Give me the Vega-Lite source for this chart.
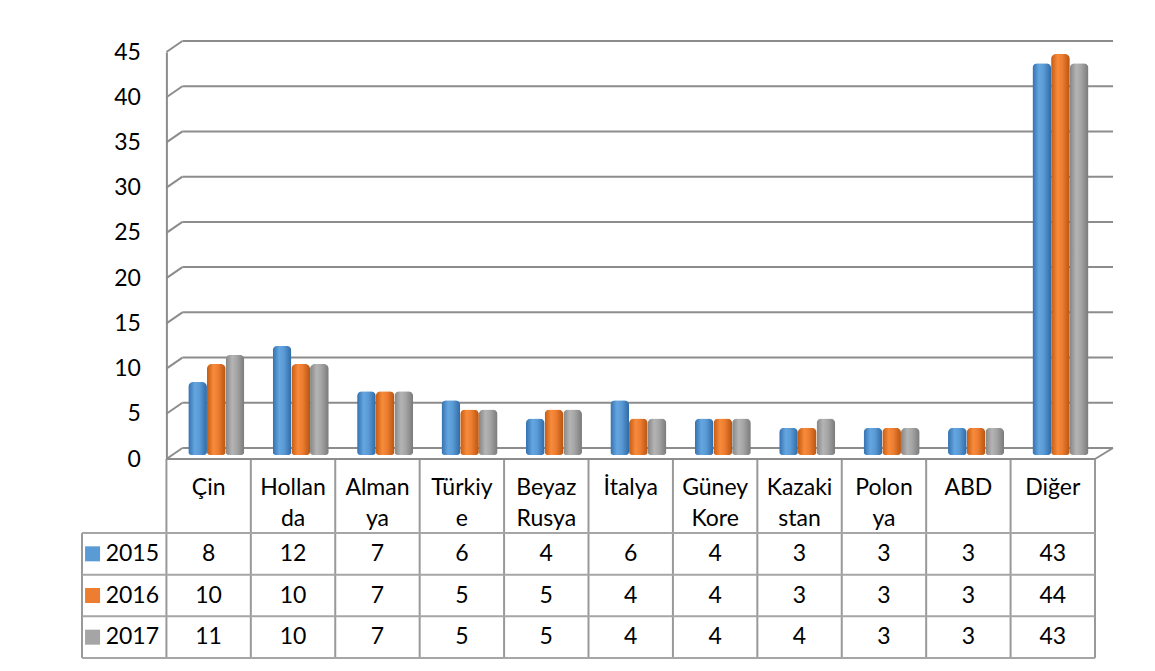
{
  "$schema": "https://vega.github.io/schema/vega-lite/v6.json",
  "padding": {"left": 81, "top": 40, "right": 5, "bottom": 5},
  "background": "white",
  "bounds": "flush",
  "spacing": 0,
  "config": {"view": {"stroke": null}, "font": "Lato", "text": {"font": "Lato"}},
  "datasets": {
    "d": [
      {"cat": "Çin", "year": "2015", "value": 8}, {"cat": "Çin", "year": "2016", "value": 10}, {"cat": "Çin", "year": "2017", "value": 11},
      {"cat": "Hollan\nda", "year": "2015", "value": 12}, {"cat": "Hollan\nda", "year": "2016", "value": 10}, {"cat": "Hollan\nda", "year": "2017", "value": 10},
      {"cat": "Alman\nya", "year": "2015", "value": 7}, {"cat": "Alman\nya", "year": "2016", "value": 7}, {"cat": "Alman\nya", "year": "2017", "value": 7},
      {"cat": "Türkiy\ne", "year": "2015", "value": 6}, {"cat": "Türkiy\ne", "year": "2016", "value": 5}, {"cat": "Türkiy\ne", "year": "2017", "value": 5},
      {"cat": "Beyaz\nRusya", "year": "2015", "value": 4}, {"cat": "Beyaz\nRusya", "year": "2016", "value": 5}, {"cat": "Beyaz\nRusya", "year": "2017", "value": 5},
      {"cat": "İtalya", "year": "2015", "value": 6}, {"cat": "İtalya", "year": "2016", "value": 4}, {"cat": "İtalya", "year": "2017", "value": 4},
      {"cat": "Güney\nKore", "year": "2015", "value": 4}, {"cat": "Güney\nKore", "year": "2016", "value": 4}, {"cat": "Güney\nKore", "year": "2017", "value": 4},
      {"cat": "Kazaki\nstan", "year": "2015", "value": 3}, {"cat": "Kazaki\nstan", "year": "2016", "value": 3}, {"cat": "Kazaki\nstan", "year": "2017", "value": 4},
      {"cat": "Polon\nya", "year": "2015", "value": 3}, {"cat": "Polon\nya", "year": "2016", "value": 3}, {"cat": "Polon\nya", "year": "2017", "value": 3},
      {"cat": "ABD", "year": "2015", "value": 3}, {"cat": "ABD", "year": "2016", "value": 3}, {"cat": "ABD", "year": "2017", "value": 3},
      {"cat": "Diğer", "year": "2015", "value": 43}, {"cat": "Diğer", "year": "2016", "value": 44}, {"cat": "Diğer", "year": "2017", "value": 43}
    ],
    "grid": [{"v": 0}, {"v": 5}, {"v": 10}, {"v": 15}, {"v": 20}, {"v": 25}, {"v": 30}, {"v": 35}, {"v": 40}, {"v": 45}],
    "cols": [{"cat": "legend"}, {"cat": "Çin"}, {"cat": "Hollan\nda"}, {"cat": "Alman\nya"}, {"cat": "Türkiy\ne"}, {"cat": "Beyaz\nRusya"}, {"cat": "İtalya"}, {"cat": "Güney\nKore"}, {"cat": "Kazaki\nstan"}, {"cat": "Polon\nya"}, {"cat": "ABD"}, {"cat": "Diğer"}]
  },
  "vconcat": [
    {
      "width": 1013,
      "height": 407,
      "resolve": {"scale": {"y": "independent"}, "axis": {"y": "independent"}},
      "layer": [
        {
          "layer": [
            {
              "data": {"name": "grid"},
              "mark": {"type": "rule", "color": "#8c8c8c", "strokeWidth": 2, "xOffset": 16, "x2Offset": 18, "yOffset": -11},
              "encoding": {
                "x": {"datum": "Çin", "type": "nominal", "bandPosition": 0, "axis": null,
                      "scale": {"domain": ["legend", "Çin", "Hollan\nda", "Alman\nya", "Türkiy\ne", "Beyaz\nRusya", "İtalya", "Güney\nKore", "Kazaki\nstan", "Polon\nya", "ABD", "Diğer"], "paddingInner": 0, "paddingOuter": 0}},
                "x2": {"datum": "Diğer", "bandPosition": 1},
                "y": {"field": "v", "type": "quantitative",
                      "scale": {"domain": [0, 45], "nice": false, "zero": true},
                      "axis": {"title": null, "offset": -84.4, "values": [0, 5, 10, 15, 20, 25, 30, 35, 40, 45], "tickSize": 0, "labelPadding": 26, "grid": false,
                               "domainColor": "#8c8c8c", "domainWidth": 2, "labelFont": "Lato", "labelFontSize": 23, "labelColor": "#000000"}}
              }
            },
            {
              "data": {"name": "grid"},
              "mark": {"type": "rule", "color": "#8c8c8c", "strokeWidth": 2, "x2Offset": 16, "y2Offset": -11},
              "encoding": {
                "x": {"datum": "Çin", "type": "nominal", "bandPosition": 0},
                "x2": {"datum": "Çin", "bandPosition": 0},
                "y": {"field": "v", "type": "quantitative",
                      "axis": {"title": null, "offset": -84.4, "values": [0, 5, 10, 15, 20, 25, 30, 35, 40, 45], "tickSize": 0, "labelPadding": 26, "grid": false,
                               "domainColor": "#8c8c8c", "domainWidth": 2, "labelFont": "Lato", "labelFontSize": 23, "labelColor": "#000000"}},
                "y2": {"field": "v"}
              }
            },
            {
              "data": {"values": [{"v": 0}]},
              "mark": {"type": "rule", "color": "#8c8c8c", "strokeWidth": 2, "x2Offset": 18, "y2Offset": -11},
              "encoding": {
                "x": {"datum": "Diğer", "type": "nominal", "bandPosition": 1},
                "x2": {"datum": "Diğer", "bandPosition": 1},
                "y": {"field": "v", "type": "quantitative",
                      "axis": {"title": null, "offset": -84.4, "values": [0, 5, 10, 15, 20, 25, 30, 35, 40, 45], "tickSize": 0, "labelPadding": 26, "grid": false,
                               "domainColor": "#8c8c8c", "domainWidth": 2, "labelFont": "Lato", "labelFontSize": 23, "labelColor": "#000000"}},
                "y2": {"field": "v"}
              }
            }
          ]
        },
        {
          "layer": [
            {
              "data": {"name": "d"},
              "transform": [{"filter": "datum.year == '2015'"}],
              "mark": {"type": "bar", "cornerRadiusTopLeft": 5, "cornerRadiusTopRight": 5, "cornerRadiusBottomLeft": 3, "cornerRadiusBottomRight": 3,
                       "fill": {"gradient": "linear", "x1": 0, "y1": 0, "x2": 1, "y2": 0, "stops": [{"offset": 0, "color": "#336fae"}, {"offset": 0.35, "color": "#64a6e0"}, {"offset": 0.6, "color": "#5b9bd5"}, {"offset": 1, "color": "#2e6aa6"}]}},
              "encoding": {
                "x": {"field": "cat", "type": "nominal"},
                "xOffset": {"field": "year", "type": "nominal", "scale": {"domain": ["2015", "2016", "2017"], "paddingInner": 0, "paddingOuter": 0.76, "align": 0.77}},
                "y": {"field": "value", "type": "quantitative", "axis": null, "scale": {"domain": [0, 45], "range": [403, -7], "nice": false}}
              }
            },
            {
              "data": {"name": "d"},
              "transform": [{"filter": "datum.year == '2016'"}],
              "mark": {"type": "bar", "cornerRadiusTopLeft": 5, "cornerRadiusTopRight": 5, "cornerRadiusBottomLeft": 3, "cornerRadiusBottomRight": 3,
                       "fill": {"gradient": "linear", "x1": 0, "y1": 0, "x2": 1, "y2": 0, "stops": [{"offset": 0, "color": "#c55a11"}, {"offset": 0.35, "color": "#f78b3c"}, {"offset": 0.6, "color": "#ed7d31"}, {"offset": 1, "color": "#b8540f"}]}},
              "encoding": {
                "x": {"field": "cat", "type": "nominal"},
                "xOffset": {"field": "year", "type": "nominal"},
                "y": {"field": "value", "type": "quantitative", "axis": null}
              }
            },
            {
              "data": {"name": "d"},
              "transform": [{"filter": "datum.year == '2017'"}],
              "mark": {"type": "bar", "cornerRadiusTopLeft": 5, "cornerRadiusTopRight": 5, "cornerRadiusBottomLeft": 3, "cornerRadiusBottomRight": 3,
                       "fill": {"gradient": "linear", "x1": 0, "y1": 0, "x2": 1, "y2": 0, "stops": [{"offset": 0, "color": "#858585"}, {"offset": 0.35, "color": "#b4b4b4"}, {"offset": 0.6, "color": "#a5a5a5"}, {"offset": 1, "color": "#7a7a7a"}]}},
              "encoding": {
                "x": {"field": "cat", "type": "nominal"},
                "xOffset": {"field": "year", "type": "nominal"},
                "y": {"field": "value", "type": "quantitative", "axis": null}
              }
            }
          ]
        }
      ]
    },
    {
      "width": 1013,
      "height": 74,
      "layer": [
        {
          "data": {"name": "d"},
          "transform": [{"filter": "datum.year == '2015'"}],
          "mark": {"type": "text", "lineBreak": "\n", "fontSize": 23, "baseline": "alphabetic", "dy": 36, "lineHeight": 31, "align": "center", "color": "#000000"},
          "encoding": {
            "x": {"field": "cat", "type": "nominal", "axis": null,
                  "scale": {"domain": ["legend", "Çin", "Hollan\nda", "Alman\nya", "Türkiy\ne", "Beyaz\nRusya", "İtalya", "Güney\nKore", "Kazaki\nstan", "Polon\nya", "ABD", "Diğer"], "paddingInner": 0, "paddingOuter": 0}},
            "y": {"datum": "h", "type": "nominal", "bandPosition": 0, "axis": null, "scale": {"paddingInner": 0, "paddingOuter": 0}},
            "text": {"field": "cat"}
          }
        },
        {
          "data": {"name": "cols"},
          "transform": [{"filter": "datum.cat != 'legend'"}],
          "mark": {"type": "rule", "color": "#999999", "strokeWidth": 2},
          "encoding": {"x": {"field": "cat", "type": "nominal", "bandPosition": 0}}
        },
        {
          "data": {"values": [{"c": "Diğer"}]},
          "mark": {"type": "rule", "color": "#999999", "strokeWidth": 2},
          "encoding": {"x": {"field": "c", "type": "nominal", "bandPosition": 1}}
        },
        {
          "data": {"values": [{"r": "h"}]},
          "mark": {"type": "rule", "color": "#8c8c8c", "strokeWidth": 2},
          "encoding": {
            "x": {"datum": "Çin", "type": "nominal", "bandPosition": 0},
            "x2": {"datum": "Diğer", "bandPosition": 1},
            "y": {"field": "r", "type": "nominal", "bandPosition": 0}
          }
        }
      ]
    },
    {
      "width": 1013,
      "height": 125,
      "layer": [
        {
          "data": {"name": "d"},
          "mark": {"type": "text", "fontSize": 23, "baseline": "middle", "align": "center", "color": "#000000"},
          "encoding": {
            "x": {"field": "cat", "type": "nominal", "axis": null,
                  "scale": {"domain": ["legend", "Çin", "Hollan\nda", "Alman\nya", "Türkiy\ne", "Beyaz\nRusya", "İtalya", "Güney\nKore", "Kazaki\nstan", "Polon\nya", "ABD", "Diğer"], "paddingInner": 0, "paddingOuter": 0}},
            "y": {"field": "year", "type": "nominal", "axis": null, "scale": {"domain": ["2015", "2016", "2017"], "paddingInner": 0, "paddingOuter": 0}},
            "text": {"field": "value"}
          }
        },
        {
          "data": {"name": "d"},
          "transform": [{"filter": "datum.cat == 'Çin'"}],
          "mark": {"type": "square", "size": 225, "opacity": 1, "filled": true},
          "encoding": {
            "x": {"datum": "legend", "type": "nominal", "bandPosition": 0.125},
            "y": {"field": "year", "type": "nominal"},
            "color": {"field": "year", "type": "nominal", "legend": null, "scale": {"domain": ["2015", "2016", "2017"], "range": ["#5b9bd5", "#ed7d31", "#a5a5a5"]}}
          }
        },
        {
          "data": {"name": "d"},
          "transform": [{"filter": "datum.cat == 'Çin'"}],
          "mark": {"type": "text", "fontSize": 23, "baseline": "middle", "align": "left", "color": "#000000"},
          "encoding": {
            "x": {"datum": "legend", "type": "nominal", "bandPosition": 0.28},
            "y": {"field": "year", "type": "nominal"},
            "text": {"field": "year"}
          }
        },
        {
          "data": {"name": "cols"},
          "mark": {"type": "rule", "color": "#999999", "strokeWidth": 2},
          "encoding": {"x": {"field": "cat", "type": "nominal", "bandPosition": 0}}
        },
        {
          "data": {"values": [{"c": "Diğer"}]},
          "mark": {"type": "rule", "color": "#999999", "strokeWidth": 2},
          "encoding": {"x": {"field": "c", "type": "nominal", "bandPosition": 1}}
        },
        {
          "data": {"name": "d"},
          "transform": [{"filter": "datum.cat == 'Çin'"}],
          "mark": {"type": "rule", "color": "#a6a6a6", "strokeWidth": 2},
          "encoding": {
            "x": {"datum": "legend", "type": "nominal", "bandPosition": 0},
            "x2": {"datum": "Diğer", "bandPosition": 1},
            "y": {"field": "year", "type": "nominal", "bandPosition": 0}
          }
        },
        {
          "data": {"values": [{"r": "2017"}]},
          "mark": {"type": "rule", "color": "#a6a6a6", "strokeWidth": 2},
          "encoding": {
            "x": {"datum": "legend", "type": "nominal", "bandPosition": 0},
            "x2": {"datum": "Diğer", "bandPosition": 1},
            "y": {"field": "r", "type": "nominal", "bandPosition": 1}
          }
        }
      ]
    }
  ]
}
